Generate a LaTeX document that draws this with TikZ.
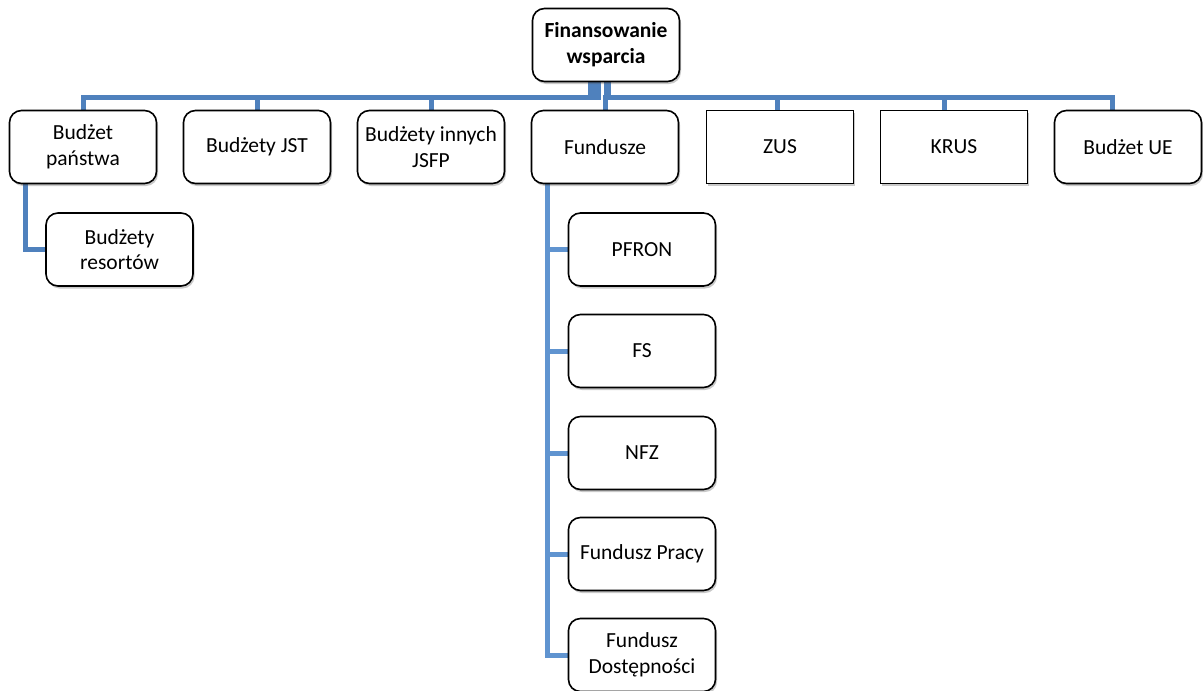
\documentclass[tikz,border=0pt]{standalone}
\usepackage{fontspec}
\setmainfont{Carlito}
\usetikzlibrary{shadows,backgrounds}
\definecolor{conn}{RGB}{79,129,189}
\definecolor{connlight}{RGB}{96,148,208}
\begin{document}
\begin{tikzpicture}[x=1pt,y=-1pt,
  box/.style={draw=black, line width=1.6pt, rounded corners=12pt, fill=white,
    minimum width=147pt, minimum height=73pt, align=center,
    font=\fontsize{21.5}{25.5}\selectfont, inner sep=2pt,
    drop shadow={shadow xshift=1.5pt, shadow yshift=-2.5pt, opacity=0.3, fill=black!70}},
  sqbox/.style={box, rounded corners=0pt},
  link/.style={draw=conn, line width=5pt},
  linklight/.style={draw=connlight, line width=5pt},
]
\useasboundingbox (0,0) rectangle (1203,691);

\node[box, font=\fontsize{21.5}{26}\selectfont\bfseries] (root) at (606,45) {Finansowanie\\wsparcia};

\node[box] (bp) at (83,147) {Budżet\\państwa};
\node[box] (jst) at (257,147) {Budżety JST};
\node[box] (jsfp) at (431,147) {Budżety innych\\JSFP};
\node[box] (fund) at (605,147) {Fundusze};
\node[sqbox] (zus) at (780,147) {ZUS};
\node[sqbox] (krus) at (954,147) {KRUS};
\node[box] (ue) at (1128,147) {Budżet UE};

\node[box] (res) at (119.5,249.5) {Budżety\\resortów};

\node[box] (pfron) at (642,249.5) {PFRON};
\node[box] (fs) at (642,351) {FS};
\node[box] (nfz) at (642,453) {NFZ};
\node[box] (fp) at (642,554) {Fundusz Pracy};
\node[box] (fd) at (642,655) {Fundusz\\Dostępności};

\begin{pgfonlayer}{background}
  \draw[link] ([xshift=-16pt]root.south) -- ++(0,15) -| (bp.north);
  \draw[link] ([xshift=-12pt]root.south) -- ++(0,15) -| (jst.north);
  \draw[link] ([xshift=-8pt]root.south) -- ++(0,15) -| (jsfp.north);
  \draw[link] ([xshift=0pt]root.south) -- ++(0,15) -| (fund.north);
  \draw[link] ([xshift=2pt]root.south) -- ++(0,15) -| ([xshift=-3pt]zus.north);
  \draw[link] ([xshift=2pt]root.south) -- ++(0,15) -| ([xshift=-10pt]krus.north);
  \draw[link] ([xshift=2pt]root.south) -- ++(0,15) -| ([xshift=-16pt]ue.north);

  \draw[link] ([xshift=-58pt]bp.south) |- (res.west);

  \draw[linklight] ([xshift=-58pt]fund.south) |- (pfron.west);
  \draw[linklight] ([xshift=-58pt]fund.south) |- (fs.west);
  \draw[linklight] ([xshift=-58pt]fund.south) |- (nfz.west);
  \draw[linklight] ([xshift=-58pt]fund.south) |- (fp.west);
  \draw[linklight] ([xshift=-58pt]fund.south) |- (fd.west);
\end{pgfonlayer}
\end{tikzpicture}
\end{document}
